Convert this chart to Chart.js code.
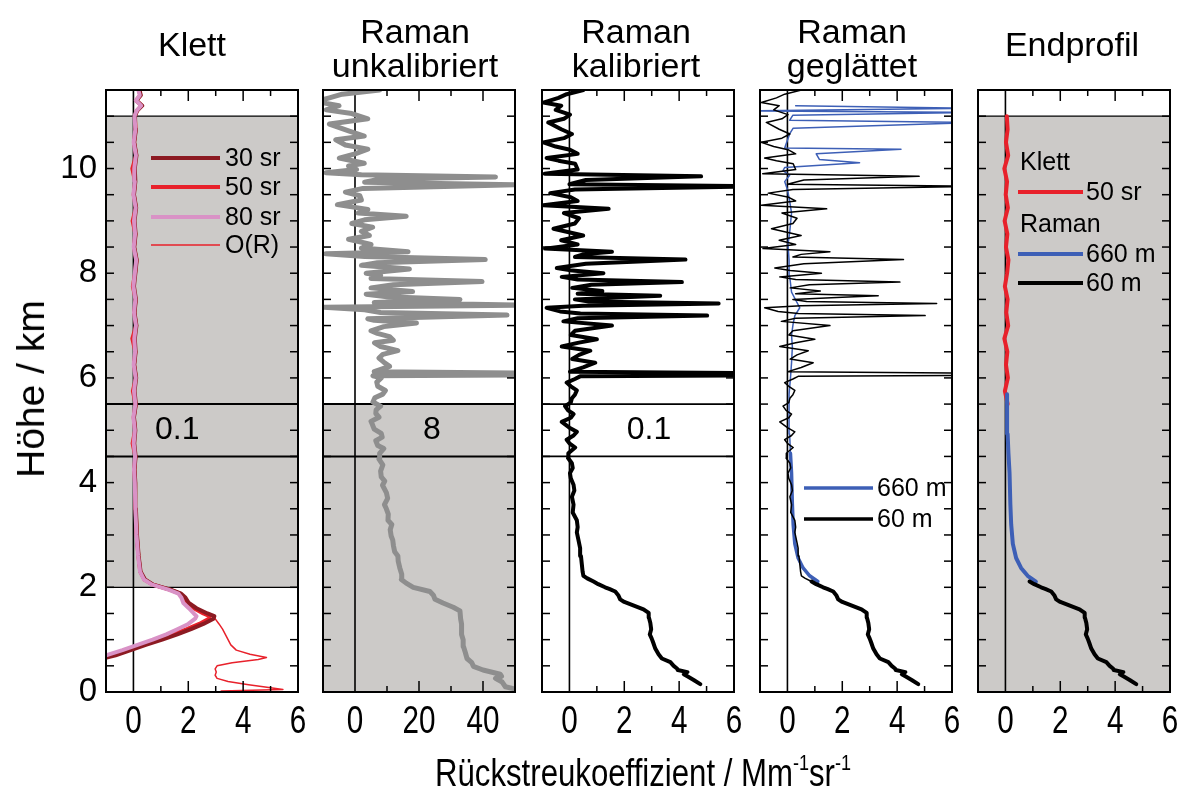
<!DOCTYPE html>
<html>
<head>
<meta charset="utf-8">
<script src="https://cdn.jsdelivr.net/npm/chart.js@4.4.0/dist/chart.umd.min.js"></script>
<style>
  body { margin: 0; background: #fff; }
  #fig { position: relative; width: 1189px; height: 799px; overflow: hidden;
         font-family: 'Liberation Sans', Arial, sans-serif; color: #000; }
  #fig canvas { position: absolute; top: 0; }
  .title { position: absolute; width: 260px; margin-left: -130px; text-align: center;
           font-size: 34px; line-height: 34px; }
  #ytitle { position: absolute; left: 31px; top: 389px; font-size: 39px; white-space: nowrap;
            transform: translate(-50%, -50%) rotate(-90deg); }
  #xtitle { position: absolute; left: 643px; top: 772px; font-size: 38px; white-space: nowrap;
            transform: translate(-50%, -50%) scaleX(0.82); }
  #xtitle sup { font-size: 22px; vertical-align: 16px; }
</style>
</head>
<body>
<div id="fig">
  <canvas id="p1"></canvas>
  <canvas id="p2"></canvas>
  <canvas id="p3"></canvas>
  <canvas id="p4"></canvas>
  <canvas id="p5"></canvas>
  <div class="title" style="left:192px; top:27px;">Klett</div>
  <div class="title" style="left:415px; top:14px;">Raman<br>unkalibriert</div>
  <div class="title" style="left:636px; top:14px;">Raman<br>kalibriert</div>
  <div class="title" style="left:852px; top:14px;">Raman<br>geglättet</div>
  <div class="title" style="left:1072px; top:27px;">Endprofil</div>
  <div id="ytitle">Höhe / km</div>
  <div id="xtitle">Rückstreukoeffizient / Mm<sup>-1</sup>sr<sup>-1</sup></div>
</div>
<script>
// tick labels
const heightTicks = [0, 2, 4, 6, 8, 10];
const betaTicks = [0, 2, 4, 6];
const rawTicks = [0, 20, 40];

// Klett profiles (height in km, backscatter in Mm-1 sr-1)
const klettHeights = [0.60, 0.70, 0.80, 0.90, 1.00, 1.10, 1.20, 1.30, 1.40, 1.45,
  1.50, 1.60, 1.70, 1.80, 1.88, 1.95, 2.05, 2.15, 2.30, 2.60,
  3.00, 3.50, 4.00, 4.25, 4.50, 4.75, 5.00, 5.25, 5.50, 5.75,
  6.00, 6.25, 6.50, 6.75, 7.00, 7.25, 7.50, 7.75, 8.00, 8.25,
  8.50, 8.75, 9.00, 9.25, 9.50, 9.75, 10.00, 10.25, 10.50, 10.75,
  11.00, 11.10, 11.20, 11.30, 11.40, 11.50];
const klett30 = [-1.4, -0.65, -0.1, 0.45, 1.05, 1.6, 2.1, 2.55, 2.92, 2.95,
  2.7, 2.3, 2.02, 1.9, 1.74, 1.38, 0.72, 0.42, 0.26, 0.19,
  0.13, 0.09, 0.07, 0.04, 0.08, 0.03, 0.07, 0.02, 0.09, 0.04,
  0.1, 0.03, 0.08, 0.05, 0.11, 0.04, 0.09, 0.02, 0.07, 0.12,
  0.03, 0.08, 0.04, 0.1, 0.02, 0.07, 0.05, 0.11, 0.03, 0.09,
  0.06, 0.13, 0.32, 0.11, 0.27, 0.22];
const klett50 = [-1.5, -0.8, -0.25, 0.3, 0.9, 1.45, 1.95, 2.4, 2.75, 2.78,
  2.55, 2.2, 1.95, 1.85, 1.7, 1.35, 0.7, 0.4, 0.25, 0.18,
  0.12, 0.08, 0.06, 0.03, 0.07, -0.03, 0.06, 0.01, 0.08, -0.02,
  0.09, 0.02, 0.07, -0.04, 0.10, 0.03, 0.08, -0.02, 0.06, 0.11,
  0.02, 0.07, -0.03, 0.09, 0.01, 0.06, -0.04, 0.10, 0.02, 0.08,
  0.05, 0.12, 0.30, 0.10, 0.25, 0.20];
const klett80 = [-1.7, -1.0, -0.4, 0.15, 0.7, 1.2, 1.6, 2.0, 2.25, 2.3,
  2.2, 2.02, 1.82, 1.75, 1.64, 1.3, 0.68, 0.38, 0.24, 0.17,
  0.11, 0.07, 0.05, 0.02, 0.06, 0.01, 0.05, 0.0, 0.07, 0.02,
  0.08, 0.01, 0.06, 0.03, 0.09, 0.02, 0.07, 0.0, 0.05, 0.1,
  0.01, 0.06, 0.02, 0.08, 0.0, 0.05, 0.03, 0.09, 0.01, 0.07,
  0.04, 0.11, 0.28, 0.09, 0.23, 0.18];
const overlapHeights = [2.30, 2.10, 1.95, 1.85, 1.75, 1.60, 1.50, 1.42, 1.30, 1.20,
  1.10, 1.00, 0.90, 0.80, 0.72, 0.66, 0.62, 0.56, 0.50, 0.44,
  0.38, 0.32, 0.26, 0.20, 0.14, 0.08, 0.05, 0.02];
const overlapValues = [0.25, 0.55, 1.35, 1.82, 1.92, 2.22, 2.62, 2.95, 3.12, 3.25,
  3.35, 3.45, 3.55, 3.75, 4.25, 4.85, 4.55, 3.6, 3.05, 2.98,
  3.02, 2.98, 3.05, 3.45, 4.2, 5.0, 5.45, 3.2];

// Raman, uncalibrated
const rawHeights = [0.05, 0.10, 0.19, 0.26, 0.30, 0.34, 0.42, 0.49, 0.56, 0.64,
  0.75, 0.87, 1.00, 1.10, 1.17, 1.30, 1.40, 1.55, 1.62, 1.70,
  1.77, 1.85, 1.92, 2.00, 2.08, 2.15, 2.25, 2.37, 2.50, 2.60,
  2.68, 2.80, 2.90, 2.98, 3.10, 3.20, 3.28, 3.40, 3.50, 3.58,
  3.70, 3.81, 3.95, 4.03, 4.11, 4.22, 4.34, 4.45, 4.56, 4.65,
  4.71, 4.80, 4.87, 4.94, 5.02, 5.10, 5.17, 5.25, 5.32, 5.39,
  5.46, 5.54, 5.62, 5.69, 5.76, 5.84, 5.92, 6.00, 6.04, 6.06,
  6.09, 6.12, 6.22, 6.30, 6.38, 6.45, 6.52, 6.60, 6.67, 6.72,
  6.79, 6.85, 6.90, 6.98, 7.05, 7.10, 7.13, 7.20, 7.25, 7.30,
  7.35, 7.39, 7.44, 7.50, 7.55, 7.60, 7.65, 7.72, 7.78, 7.84,
  7.90, 7.96, 8.00, 8.08, 8.15, 8.20, 8.26, 8.32, 8.37, 8.41,
  8.48, 8.55, 8.65, 8.72, 8.80, 8.88, 8.95, 9.02, 9.09, 9.15,
  9.22, 9.31, 9.40, 9.48, 9.55, 9.62, 9.69, 9.74, 9.80, 9.84,
  9.88, 9.92, 9.98, 10.05, 10.10, 10.20, 10.28, 10.37, 10.45, 10.55,
  10.62, 10.72, 10.85, 10.95, 11.05, 11.12, 11.20, 11.28, 11.35, 11.42,
  11.50];
const rawValues = [50.5, 47.0, 46.0, 43.9, 45.8, 45.4, 40.0, 37.0, 36.5, 35.0,
  34.5, 33.9, 33.8, 33.3, 33.4, 33.2, 33.0, 32.8, 30.7, 27.5,
  25.0, 24.5, 23.4, 18.2, 16.0, 14.5, 14.6, 14.0, 13.5, 13.4,
  12.4, 12.0, 11.8, 11.3, 11.0, 11.5, 10.3, 10.4, 9.8, 9.2,
  10.2, 9.8, 8.6, 9.3, 8.2, 8.0, 8.7, 7.5, 7.7, 9.0,
  7.1, 6.5, 8.5, 8.2, 6.0, 5.5, 5.0, 7.5, 6.5, 6.6,
  8.0, 5.6, 6.2, 8.7, 9.5, 7.1, 6.8, 8.2, 5.6, 55,
  55, 6.0, 10.8, 9.0, 7.5, 8.7, 13.4, 8.0, 6.1, 12.0,
  10.8, 7.0, 5.0, 9.0, 19.2, 6.0, 4.0, 47.5, 8.0, 3.0,
  -9.7, 55, 6.0, 32.8, 10.0, 3.5, 18.0, 5.0, 12.0, 39.7,
  5.0, 8.0, 3.5, 17.0, 2.0, 7.0, 40.7, 3.0, -9.1, 16.6,
  2.0, 5.0, -2.0, 4.5, 2.0, 5.5, -1.0, 3.0, 16.0, 1.0,
  4.0, -5.5, 2.0, 1.5, -3.0, 2.5, 51.0, 3.0, 8.0, 43.9,
  2.0, -9.1, 0.5, -2.0, 2.9, -4.9, 0.0, 4.0, -3.0, -6.0,
  2.9, -2.0, -8.0, 4.0, -1.0, -9.0, -5.0, -12.0, -8.0, -4.0,
  7.7];

// Raman, calibrated, 60 m resolution
const calHeights = [0.15, 0.23, 0.30, 0.34, 0.38, 0.42, 0.45, 0.50, 0.57, 0.64,
  0.72, 0.83, 0.95, 1.02, 1.10, 1.20, 1.32, 1.42, 1.51, 1.58,
  1.65, 1.72, 1.77, 1.85, 1.92, 1.97, 2.00, 2.06, 2.11, 2.17,
  2.22, 2.30, 2.45, 2.60, 2.75, 2.90, 3.05, 3.15, 3.28, 3.43,
  3.58, 3.73, 3.85, 3.96, 4.08, 4.18, 4.28, 4.37, 4.47, 4.56,
  4.67, 4.75, 4.82, 4.90, 4.97, 5.05, 5.16, 5.24, 5.31, 5.38,
  5.46, 5.53, 5.61, 5.68, 5.76, 5.84, 5.91, 5.98, 6.03, 6.05,
  6.09, 6.12, 6.20, 6.29, 6.36, 6.44, 6.52, 6.60, 6.67, 6.74,
  6.82, 6.90, 7.00, 7.08, 7.14, 7.19, 7.23, 7.27, 7.34, 7.38,
  7.42, 7.46, 7.50, 7.54, 7.57, 7.61, 7.66, 7.72, 7.78, 7.83,
  7.88, 7.93, 8.00, 8.05, 8.10, 8.18, 8.26, 8.31, 8.36, 8.41,
  8.47, 8.55, 8.63, 8.72, 8.85, 8.95, 9.05, 9.15, 9.23, 9.30,
  9.38, 9.45, 9.53, 9.60, 9.66, 9.70, 9.78, 9.85, 9.90, 9.98,
  10.09, 10.15, 10.20, 10.28, 10.36, 10.42, 10.50, 10.58, 10.66, 10.75,
  10.88, 10.95, 11.03, 11.12, 11.20, 11.26, 11.35, 11.42, 11.50];
const calValues = [4.77, 4.53, 4.30, 4.17, 4.30, 3.95, 3.92, 3.80, 3.68, 3.37,
  3.25, 3.13, 3.05, 3.00, 2.93, 2.98, 2.95, 2.90, 2.89, 2.70,
  2.35, 2.00, 1.85, 1.78, 1.67, 1.45, 1.30, 1.05, 0.88, 0.65,
  0.51, 0.48, 0.45, 0.42, 0.39, 0.33, 0.27, 0.30, 0.27, 0.12,
  0.15, 0.09, 0.18, 0.15, 0.05, 0.02, 0.12, 0.09, -0.05, -0.04,
  0.21, 0.00, -0.10, 0.15, 0.27, 0.00, -0.28, 0.05, 0.15, -0.05,
  -0.16, 0.05, 0.09, 0.20, 0.27, 0.05, -0.10, 0.20, 0.39, 6.80,
  6.80, 0.02, 0.50, 0.94, 0.10, 0.35, 0.76, -0.28, 0.30, 1.00,
  0.05, 0.20, 1.55, -0.22, 0.30, 5.02, 0.40, -0.34, -0.83, 0.50,
  5.44, 0.70, 0.20, 2.00, 3.31, 0.30, 1.20, 0.10, 0.80, 4.10,
  0.30, -0.28, 1.24, 0.10, -0.46, 0.60, 4.23, 0.20, 0.50, 1.55,
  -0.89, 0.30, -0.30, 0.50, -0.58, 0.20, 0.35, -0.20, 1.43, -0.95,
  0.30, 0.05, -0.70, 0.20, 6.80, 0.00, 0.60, 4.80, -0.90, 0.30,
  0.21, -0.40, -0.83, 0.30, 0.02, -0.50, -0.95, -0.20, 0.09, -0.30,
  -0.77, -0.20, 0.02, -0.50, -0.30, -0.95, -0.40, -0.10, 0.51];

// Raman, smoothed to 660 m
const smoothHeights = [2.11, 2.22, 2.37, 2.56, 2.83, 3.20, 3.58, 4.18, 4.56, 4.93,
  5.31, 5.69, 5.99, 6.29, 6.59, 6.82, 7.04, 7.19, 7.34, 7.46,
  7.64, 7.95, 8.25, 8.55, 8.77, 9.15, 9.38, 9.60, 9.75, 9.87,
  9.96, 10.02, 10.11, 10.17, 10.28, 10.37, 10.39, 10.66, 10.77, 10.88,
  10.92, 11.02, 11.07, 11.10, 11.15, 11.20];
const smoothValues = [1.11, 0.81, 0.57, 0.39, 0.27, 0.21, 0.18, 0.15, 0.11, 0.08,
  0.06, 0.06, 0.11, 0.15, 0.18, 0.15, 0.21, 0.27, 0.45, 0.33,
  0.15, 0.08, 0.06, 0.02, 0.08, 0.15, 0.08, 0.00, -0.10, 0.08,
  -0.16, -0.10, 2.63, 1.17, 1.05, 4.14, -0.10, 0.08, 0.21, 6.80,
  0.08, 0.20, 6.80, -1.50, 6.80, 0.30];

const RED = '#e8212b', DARKRED = '#8c1a22', PINK = '#d992c6', BLUE = '#3d5fb6',
  GREY = '#8e8e8e', SHADE = '#cccac8';
const SANS = "'Liberation Sans', Arial, sans-serif";

function pts(hs, vs, keep) {
  return hs.map((h, i) => ({ x: vs[i], y: h })).filter(p => !keep || keep(p.y));
}

function line(ctx, x0, y0, x1, y1) {
  ctx.beginPath();
  ctx.moveTo(x0, y0);
  ctx.lineTo(x1, y1);
  ctx.stroke();
}

function series(data, color, width, extra) {
  return Object.assign({
    data, showLine: true, borderColor: color, borderWidth: width, pointRadius: 0,
    fill: false, tension: 0, borderJoinStyle: 'round', borderCapStyle: 'round'
  }, extra || {});
}

// shading, frame, inner ticks, narrow x labels, panel labels and legends
const decor = {
  id: 'decor',
  beforeDatasetsDraw(chart, args, o) {
    const { ctx, chartArea: a, scales: { x, y } } = chart;
    ctx.save();
    ctx.fillStyle = SHADE;
    (o.shade || []).forEach(([h0, h1]) => {
      const top = y.getPixelForValue(h1), bot = y.getPixelForValue(h0);
      ctx.fillRect(a.left, top, a.width, bot - top);
    });
    ctx.strokeStyle = '#000';
    ctx.lineWidth = 1.6;
    const x0 = x.getPixelForValue(0);
    line(ctx, x0, a.top, x0, a.bottom);
    (o.hlines || []).forEach(([h, w]) => {
      ctx.lineWidth = w;
      const py = y.getPixelForValue(h);
      line(ctx, a.left, py, a.right, py);
    });
    ctx.restore();
  },
  afterDatasetsDraw(chart, args, o) {
    const { ctx, chartArea: a, scales: { x, y } } = chart;
    ctx.save();
    ctx.strokeStyle = '#000';
    ctx.lineWidth = 1.5;
    // x ticks, pointing inward at top and bottom
    for (let v = Math.ceil(x.min / o.xStep) * o.xStep; v < x.max - 1e-6; v += o.xStep) {
      if (Math.abs(v) < 1e-6 || v <= x.min) continue;
      const len = Math.abs(v / o.xMajor - Math.round(v / o.xMajor)) < 1e-6 ? 11 : 6;
      const px = x.getPixelForValue(v);
      line(ctx, px, a.bottom, px, a.bottom - len);
      line(ctx, px, a.top, px, a.top + len);
    }
    // y ticks every 0.5 km on both sides
    for (let h = 0.5; h < y.max - 0.01; h += 0.5) {
      const py = y.getPixelForValue(h);
      line(ctx, a.left, py, a.left + 8, py);
      line(ctx, a.right, py, a.right - 8, py);
    }
    ctx.lineWidth = 2;
    ctx.strokeRect(a.left, a.top, a.width, a.height);

    ctx.fillStyle = '#000';
    // x tick labels of the scale, squeezed like a narrow face
    ctx.font = '38px ' + SANS;
    ctx.textAlign = 'center';
    ctx.textBaseline = 'alphabetic';
    x.ticks.forEach(t => {
      ctx.save();
      ctx.translate(x.getPixelForValue(t.value), a.bottom + 41);
      ctx.scale(0.78, 1);
      ctx.fillText(String(t.value), 0, 0);
      ctx.restore();
    });

    if (o.note) {
      ctx.font = '32px ' + SANS;
      ctx.textAlign = 'center';
      ctx.textBaseline = 'middle';
      ctx.fillText(o.note.text, x.getPixelForValue(o.note.x), y.getPixelForValue(o.note.y));
    }
    ctx.font = '25px ' + SANS;
    ctx.textAlign = 'left';
    ctx.textBaseline = 'middle';
    (o.legend || []).forEach(it => {
      const py = a.top + it.dy;
      if (it.color) {
        ctx.strokeStyle = it.color;
        ctx.lineWidth = it.width;
        line(ctx, a.left + it.x0, py, a.left + it.x1, py);
      }
      ctx.fillText(it.text, a.left + it.tx, py + 1);
    });
    ctx.restore();
  }
};

function makePanel(id, p) {
  const el = document.getElementById(id);
  const plotW = 192, right = 40;
  el.width = p.padLeft + p.axisW + plotW + right;
  el.height = 799;
  el.style.left = (p.left - p.padLeft - p.axisW) + 'px';
  return new Chart(el, {
    type: 'scatter',
    data: { datasets: p.datasets },
    options: {
      responsive: false,
      animation: false,
      events: [],
      layout: { padding: { left: p.padLeft, right: right, top: 90, bottom: 57 } },
      plugins: { legend: { display: false }, tooltip: { enabled: false }, decor: p.decor },
      scales: {
        x: {
          type: 'linear', min: p.xMin, max: p.xMax, bounds: 'data',
          grid: { display: false, drawTicks: false }, border: { display: false },
          afterBuildTicks: s => { s.ticks = p.xTicks.map(v => ({ value: v })); },
          afterFit: s => { s.height = 50; },
          ticks: { display: false }
        },
        y: {
          type: 'linear', min: 0, max: 11.5, bounds: 'data',
          grid: { display: false, drawTicks: false }, border: { display: false },
          afterBuildTicks: s => { s.ticks = p.axisW ? heightTicks.map(v => ({ value: v })) : []; },
          afterFit: s => { s.width = p.axisW; },
          ticks: { display: !!p.axisW, padding: 9, color: '#000', font: { family: SANS, size: 33 } }
        }
      }
    },
    plugins: [decor]
  });
}

const thinAbove = (limit, thick, thin) => ({
  borderWidth: c => (c.p0.parsed.y < limit ? thick : thin)
});

makePanel('p1', {
  left: 106, padLeft: 6, axisW: 100, xMin: -1, xMax: 6, xTicks: betaTicks,
  datasets: [
    series(pts(klettHeights, klett80), PINK, 4),
    series(pts(klettHeights, klett30), DARKRED, 4),
    series(pts(klettHeights, klett50), RED, 4),
    series(pts(overlapHeights, overlapValues), RED, 1.5)
  ],
  decor: {
    xStep: 1, xMajor: 2, shade: [[2, 11]],
    hlines: [[2, 1.3], [11, 1.3], [4.5, 2], [5.5, 2]],
    note: { text: '0.1', x: 1.6, y: 5.0 },
    legend: [
      { dy: 68, x0: 45, x1: 114, tx: 119, color: DARKRED, width: 4, text: '30 sr' },
      { dy: 97, x0: 45, x1: 114, tx: 119, color: RED, width: 4, text: '50 sr' },
      { dy: 127, x0: 45, x1: 114, tx: 119, color: PINK, width: 4, text: '80 sr' },
      { dy: 155, x0: 45, x1: 114, tx: 119, color: RED, width: 1.5, text: 'O(R)' }
    ]
  }
});

makePanel('p2', {
  left: 323, padLeft: 40, axisW: 0, xMin: -10, xMax: 50, xTicks: rawTicks,
  datasets: [series(pts(rawHeights, rawValues), GREY, 5)],
  decor: {
    xStep: 10, xMajor: 20, shade: [[0, 5.5]],
    hlines: [[4.5, 2], [5.5, 2]],
    note: { text: '8', x: 24, y: 5.0 }
  }
});

makePanel('p3', {
  left: 542, padLeft: 40, axisW: 0, xMin: -1, xMax: 6, xTicks: betaTicks,
  datasets: [series(pts(calHeights, calValues), '#000', 4)],
  decor: {
    xStep: 1, xMajor: 2,
    hlines: [[4.5, 1.8], [5.5, 1.8]],
    note: { text: '0.1', x: 2.9, y: 5.0 }
  }
});

makePanel('p4', {
  left: 760, padLeft: 40, axisW: 0, xMin: -1, xMax: 6, xTicks: betaTicks,
  datasets: [
    series(pts(calHeights, calValues), '#000', 1.5, { segment: thinAbove(2.11, 4, 1.5) }),
    series(pts(smoothHeights, smoothValues), BLUE, 1.5, { segment: thinAbove(4.4, 3.5, 1.5) })
  ],
  decor: {
    xStep: 1, xMajor: 2,
    legend: [
      { dy: 398, x0: 44, x1: 113, tx: 117, color: BLUE, width: 3.5, text: '660 m' },
      { dy: 429, x0: 44, x1: 113, tx: 117, color: '#000', width: 3.5, text: '60 m' }
    ]
  }
});

makePanel('p5', {
  left: 978, padLeft: 40, axisW: 0, xMin: -1, xMax: 6, xTicks: betaTicks,
  datasets: [
    series(pts(calHeights, calValues, h => h <= 2.11), '#000', 4),
    series(pts(smoothHeights, smoothValues, h => h <= 5.7), BLUE, 4),
    series(pts(klettHeights, klett50, h => h >= 5.5 && h <= 11.0), RED, 4)
  ],
  decor: {
    xStep: 1, xMajor: 2, shade: [[0, 11]],
    hlines: [[11, 1.3]],
    legend: [
      { dy: 72, tx: 42, text: 'Klett' },
      { dy: 102, x0: 40, x1: 105, tx: 108, color: RED, width: 4, text: '50 sr' },
      { dy: 134, tx: 42, text: 'Raman' },
      { dy: 164, x0: 40, x1: 105, tx: 108, color: BLUE, width: 4, text: '660 m' },
      { dy: 193, x0: 40, x1: 105, tx: 108, color: '#000', width: 4, text: '60 m' }
    ]
  }
});
</script>
</body>
</html>
